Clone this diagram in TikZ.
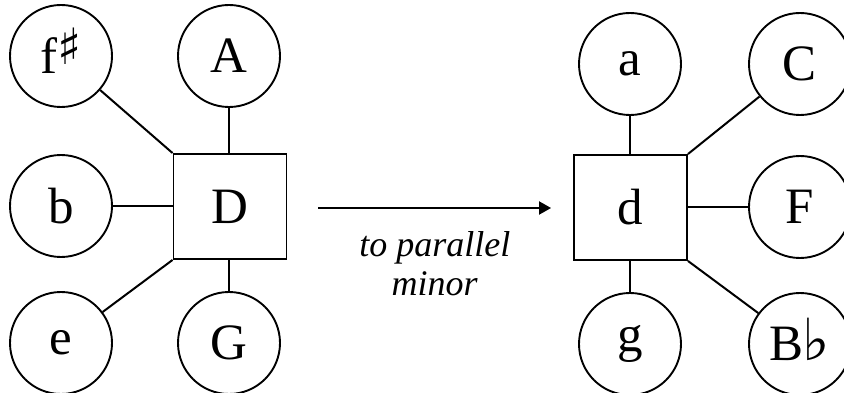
\documentclass[tikz,border=0pt]{standalone}
\usepackage{fontspec}
\setmainfont{Liberation Serif}
\newfontfamily\symfont{DejaVu Sans}
\usetikzlibrary{arrows.meta}
\begin{document}
\begin{tikzpicture}[x=1pt,y=-1pt,
  key/.style={circle,draw,line width=1.9pt,minimum size=102pt,inner sep=0pt,font=\fontsize{51}{60}\selectfont},
  tonic/.style={rectangle,draw,line width=1.9pt,minimum width=113pt,minimum height=105pt,inner sep=0pt,font=\fontsize{51}{60}\selectfont},
  link/.style={line width=2pt},
  conv/.style={line width=2pt,-{Triangle[length=12pt,width=13pt]}},
  lab/.style={font=\fontsize{36}{39}\selectfont\itshape,align=center,inner sep=0pt}]
\useasboundingbox (0,0) rectangle (844,393);
% left diagram
\node[key] (fs) at (61,56) {f\smash{\raisebox{0.18em}{\symfont\fontsize{50}{50}\selectfont ♯}}};
\node[tonic] (D) at (230,206.5) {D};
\node[key] (A) at (229,56) {A};
\node[key] (b) at (61,206) {b};
\node[key] (e) at (61,343) {e};
\node[key] (G) at (229,343) {G};
\draw[link] (fs) -- (D.north west);
\draw[link] (A) -- (A |- D.north);
\draw[link] (b) -- (b -| D.west);
\draw[link] (e) -- (D.south west);
\draw[link] (G) -- (G |- D.south);
% right diagram
\node[tonic] (d) at (630.5,207.5) {d};
\node[key] (a) at (630,64) {a};
\node[key] (C) at (800,64) {C};
\node[key] (F) at (800,207) {F};
\node[key] (Bb) at (800,344) {B\kern-1pt\smash{\symfont\fontsize{58}{58}\selectfont ♭}};
\node[key] (g) at (630,344) {g};
\draw[link] (a) -- (a |- d.north);
\draw[link] (C) -- (d.north east);
\draw[link] (F) -- (F -| d.east);
\draw[link] (Bb) -- (d.south east);
\draw[link] (g) -- (g |- d.south);
% transformation arrow
\coordinate (s) at ([xshift=31pt]D.east);
\coordinate (t) at ([xshift=-22pt]d.west);
\draw[conv] (s |- 0,208) -- (t |- 0,208) node[midway,below=23pt,lab] {to parallel\\minor};
\end{tikzpicture}
\end{document}
